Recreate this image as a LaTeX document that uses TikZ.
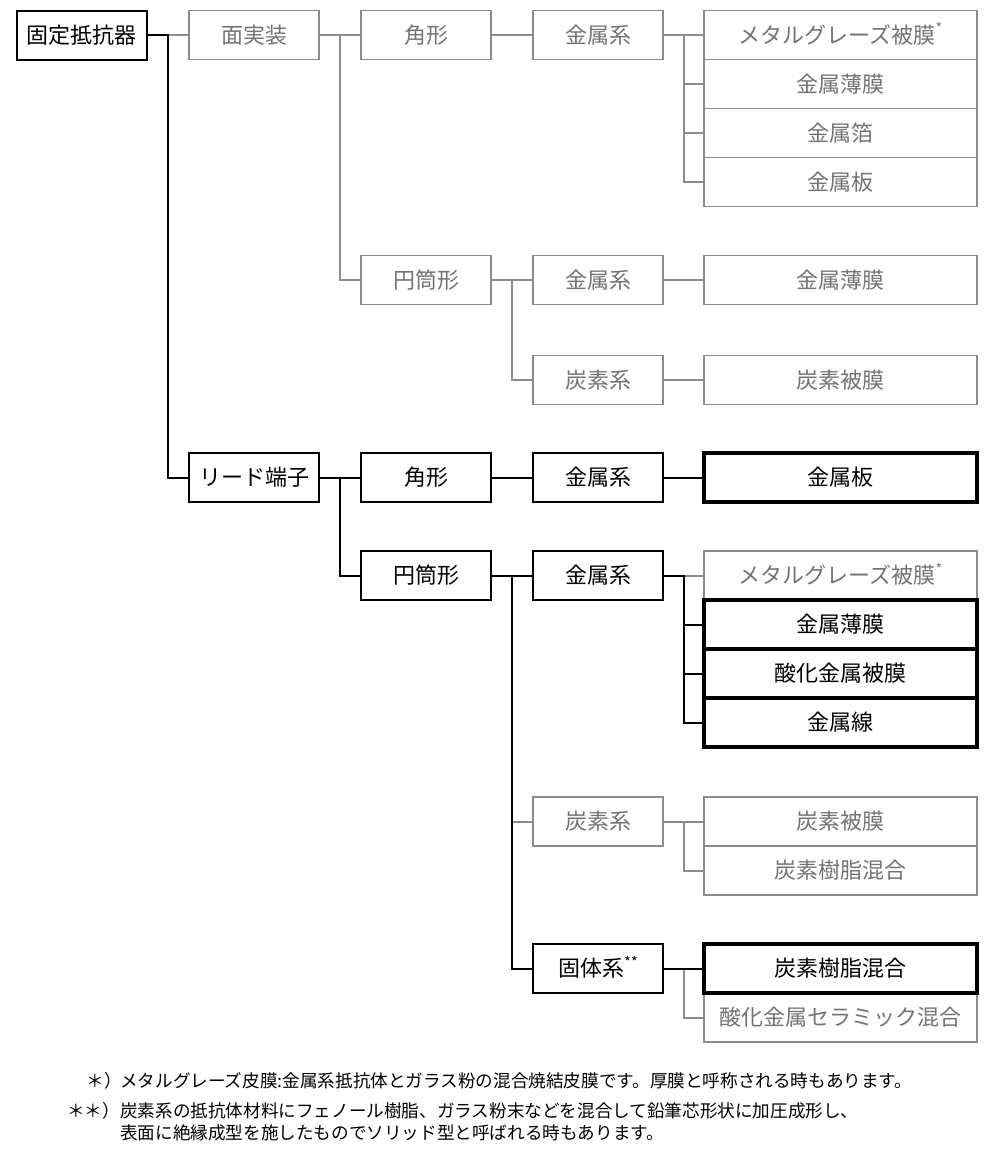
\documentclass[tikz,border=0pt]{standalone}
\usepackage{fontspec}
\setmainfont{Noto Sans CJK JP}
\definecolor{gtxt}{HTML}{737373}
\definecolor{gln}{HTML}{8C8C8C}
\newcommand{\supast}[1]{\raisebox{0.42em}{\fontsize{14}{14}\selectfont #1}}
\begin{document}
\begin{tikzpicture}[x=1pt,y=-1pt,
  basebox/.style={rectangle, inner sep=0pt, minimum height=49pt,
    font=\fontsize{22}{26}\selectfont, text height=18pt, text depth=2pt},
  gbox/.style={basebox, draw=gln, line width=1.5pt, text=gtxt},
  bbox/.style={basebox, draw=black, line width=2pt, text=black},
  tbox/.style={basebox, draw=black, line width=3.5pt, text=black},
  w1/.style={minimum width=130pt},
  w4/.style={minimum width=273pt},
  gline/.style={draw=gln, line width=2pt},
  bline/.style={draw=black, line width=2pt},
  fn/.style={inner sep=0pt, font=\fontsize{17.6}{20}\selectfont, text=black}]
\useasboundingbox[fill=white] (0,0) rectangle (1000,1152);

\coordinate (v1) at (168,0);
\coordinate (v2) at (340,0);
\coordinate (v3) at (512,0);
\coordinate (v4) at (684,0);

% upper part
\node[bbox,w1] (fixed) at (82,35) {固定抵抗器};
\node[gbox,w1] (smd) at (254,35) {面実装};
\node[gbox,w1] (kaku1) at (426,35) {角形};
\node[gbox,w1] (km1) at (598,35) {金属系};
\node[gbox,w4] (s1a) at (840.5,35) {メタルグレーズ被膜\supast{*}};
\node[gbox,w4] (s1b) at (840.5,84) {金属薄膜};
\node[gbox,w4] (s1c) at (840.5,133) {金属箔};
\node[gbox,w4] (s1d) at (840.5,182) {金属板};
\node[gbox,w1] (ent1) at (426,280) {円筒形};
\node[gbox,w1] (km2) at (598,280) {金属系};
\node[gbox,w4] (fm1) at (840.5,280) {金属薄膜};
\node[gbox,w1] (tan1) at (598,380) {炭素系};
\node[gbox,w4] (tf1) at (840.5,380) {炭素被膜};

% lower part
\node[bbox,w1] (lead) at (254,477.5) {リード端子};
\node[bbox,w1] (kaku2) at (426,477.5) {角形};
\node[bbox,w1] (km3) at (598,477.5) {金属系};
\node[tbox,w4] (plate) at (840.5,477.5) {金属板};
\node[bbox,w1] (ent2) at (426,575.5) {円筒形};
\node[bbox,w1] (km4) at (598,575.5) {金属系};
\node[gbox,w4] (s2a) at (840.5,575.5) {メタルグレーズ被膜\supast{*}};
\node[tbox,w4] (s2b) at (840.5,624.5) {金属薄膜};
\node[tbox,w4] (s2c) at (840.5,673.5) {酸化金属被膜};
\node[tbox,w4] (s2d) at (840.5,722.5) {金属線};
\node[gbox,w1] (tan2) at (598,821.5) {炭素系};
\node[gbox,w4] (s3a) at (840.5,821.5) {炭素被膜};
\node[gbox,w4] (s3b) at (840.5,870.5) {炭素樹脂混合};
\node[bbox,w1] (solid) at (598,968.5) {固体系\supast{**}};
\node[gbox,w4] (s4b) at (840.5,1017.5) {酸化金属セラミック混合};
\node[tbox,w4] (s4a) at (840.5,968.5) {炭素樹脂混合};

% connectors upper (gray)
\draw[gline] (fixed.east -| v1) -- (smd.west);
\draw[gline] (smd.east) -- (kaku1.west);
\draw[gline] (smd.east -| v2) |- (ent1.west);
\draw[gline] (kaku1.east) -- (km1.west);
\draw[gline] (km1.east) -- (s1a.west);
\draw[gline] (km1.east -| v4) |- (s1d.west);
\draw[gline] (s1b.west -| v4) -- (s1b.west);
\draw[gline] (s1c.west -| v4) -- (s1c.west);
\draw[gline] (ent1.east) -- (km2.west);
\draw[gline] (ent1.east -| v3) |- (tan1.west);
\draw[gline] (km2.east) -- (fm1.west);
\draw[gline] (tan1.east) -- (tf1.west);

% connectors lower
\draw[gline] (tan2.west -| v3) -- (tan2.west);
\draw[gline] (km4.east -| v4) -- (s2a.west);
\draw[gline] (tan2.east) -- (s3a.west);
\draw[gline] (tan2.east -| v4) |- (s3b.west);
\draw[gline] (solid.east -| v4) |- (s4b.west);
\draw[bline] (fixed.east) -- (fixed.east -| v1) |- (lead.west);
\draw[bline] (lead.east) -- (kaku2.west);
\draw[bline] (lead.east -| v2) |- (ent2.west);
\draw[bline] (kaku2.east) -- (km3.west);
\draw[bline] (km3.east) -- (plate.west);
\draw[bline] (ent2.east) -- (km4.west);
\draw[bline] (ent2.east -| v3) |- (solid.west);
\draw[bline] (km4.east) -- (km4.east -| v4) |- (s2d.west);
\draw[bline] (s2b.west -| v4) -- (s2b.west);
\draw[bline] (s2c.west -| v4) -- (s2c.west);
\draw[bline] (solid.east) -- (s4a.west);

% footnotes
\node[fn, anchor=east] (m1) at (122,1081) {＊）};
\node[fn, anchor=west] (t1) at (120,1081) {メタルグレーズ皮膜:金属系抵抗体とガラス粉の混合焼結皮膜です。厚膜と呼称される時もあります。};
\node[fn, anchor=east] (m2) at (120,1111) {＊＊）};
\node[fn, anchor=west] (t2) at (120,1111) {炭素系の抵抗体材料にフェノール樹脂、ガラス粉末などを混合して鉛筆芯形状に加圧成形し、};
\node[fn, anchor=west] (t3) at (120,1133) {表面に絶縁成型を施したものでソリッド型と呼ばれる時もあります。};
\end{tikzpicture}
\end{document}
